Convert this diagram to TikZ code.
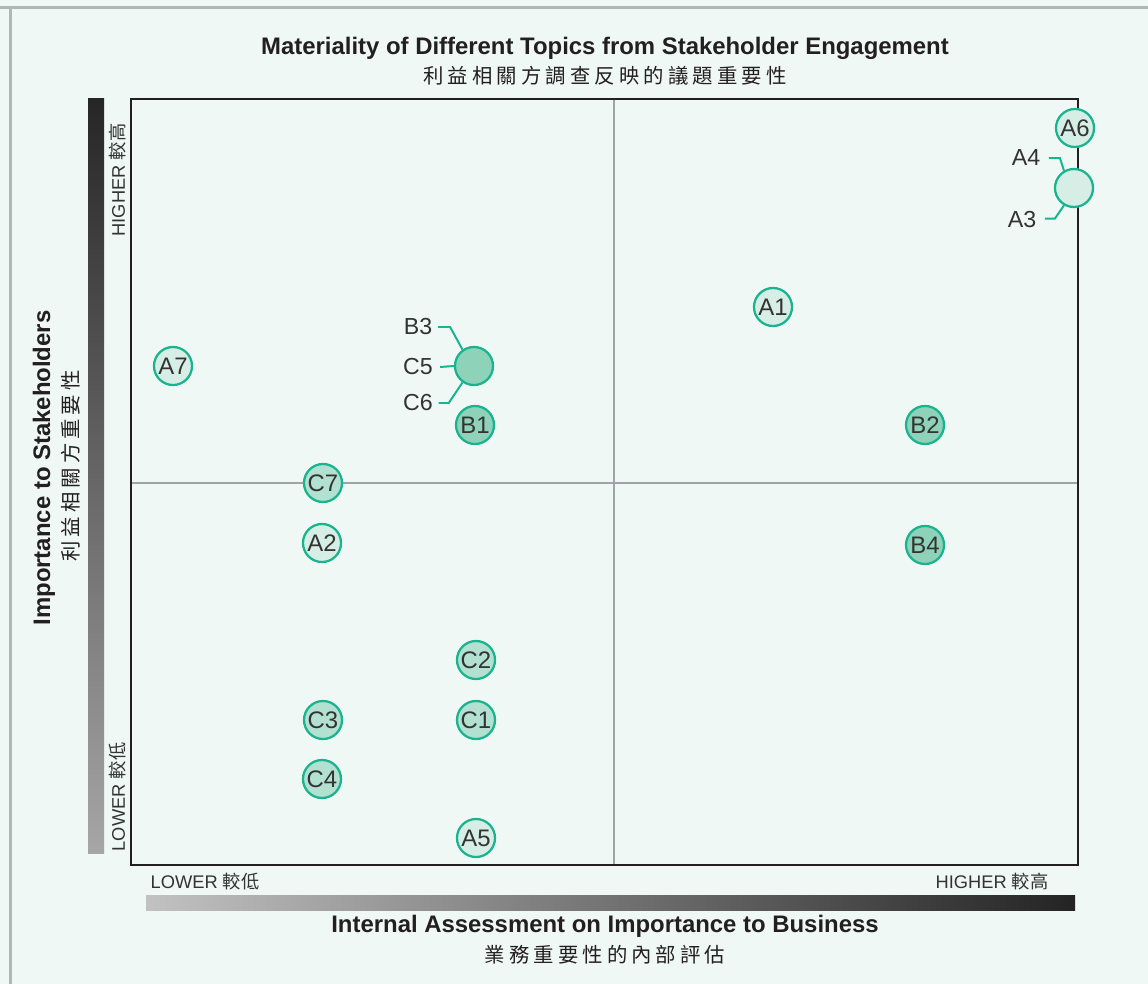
\documentclass[tikz,border=0pt]{standalone}
\usepackage{fontspec}
\setmainfont{Liberation Sans}
\newfontfamily\cjk{Noto Sans CJK TC}
\newfontfamily\cjkwide[LetterSpace=20]{Noto Sans CJK TC}
\usepackage{xcolor}
\usepackage{tikz}
\usetikzlibrary{positioning}

\definecolor{bgmint}{HTML}{EFF8F5}
\definecolor{edgegray}{HTML}{B3B6B7}
\definecolor{topicline}{HTML}{19B38E}
\definecolor{fillA}{HTML}{D6EEE5}
\definecolor{fillB}{HTML}{8ED3B9}
\definecolor{fillC}{HTML}{B2E0D1}
\definecolor{inktext}{HTML}{231F20}
\definecolor{softtext}{HTML}{333333}

\begin{document}
\begin{tikzpicture}[
    x=0.025cm, y=-0.025cm,
    heading/.style={font=\fontsize{17}{18}\bfseries, text=inktext, inner sep=0pt},
    cnheading/.style={font=\fontsize{14.5}{16}\cjkwide, text=inktext, inner sep=0pt},
    scale label/.style={font=\fontsize{13}{14}\selectfont, text=softtext, inner sep=0pt},
    topic/.style={circle, draw=topicline, line width=1.6pt, minimum size=0.95cm, inner sep=0pt, font=\fontsize{17}{17}\selectfont, text=softtext},
    topicA/.style={topic, fill=fillA},
    topicB/.style={topic, fill=fillB},
    topicC/.style={topic, fill=fillC},
    tag/.style={font=\fontsize{16.5}{17}\selectfont, text=softtext, inner sep=0pt},
    link/.style={draw=topicline, line width=1.4pt},
    frame/.style={draw=inktext, line width=2.1pt},
    midline/.style={draw=edgegray!90!black, line width=2pt}
]

% Background and page edge
\fill[bgmint] (0,0) rectangle (1148,984);
\useasboundingbox (0,0) rectangle (1148,984);
\draw[edgegray, line width=2pt] (0,7.5) -- (1148,7.5);
\draw[edgegray, line width=2pt] (10.5,7.5) -- (10.5,984);

% Title
\node[heading] (title) at (605,48) {Materiality of Different Topics from Stakeholder Engagement};
\node[cnheading] (title_cn) at (605,76) {利益相關方調查反映的議題重要性};

% Scale bars
\shade[top color=black!85, middle color=black!52, bottom color=black!35] (88,99) rectangle (104,853);
\shade[left color=black!24, middle color=black!36, right color=black!86] (146,895) rectangle (1075,910);

% Quadrants
\draw[midline] (614,99) -- (614,865);
\draw[midline] (131,483) -- (1078,483);
\draw[frame] (131,99) rectangle (1078,865);

% Axis scale labels
\node[scale label, rotate=90] (y_high) at (118,180) {HIGHER {\cjk 較高}};
\node[scale label, rotate=90] (y_low) at (118,797) {LOWER {\cjk 較低}};
\node[scale label] (x_low) at (205,882) {LOWER {\cjk 較低}};
\node[scale label] (x_high) at (992,882) {HIGHER {\cjk 較高}};

% Axis titles
\node[heading, rotate=90] (y_title) at (44,468) {Importance to Stakeholders};
\node[cnheading, rotate=90] (y_title_cn) at (71,466) {利益相關方重要性};
\node[heading] (x_title) at (605,926) {Internal Assessment on Importance to Business};
\node[cnheading] (x_title_cn) at (605,955) {業務重要性的內部評估};

% Topics
\node[topicA] (a6) at (1075,128) {A6};
\node[topicA] (a34) at (1074,188) {};
\node[topicA] (a1) at (773,307) {A1};
\node[topicA] (a7) at (173,366) {A7};
\node[topicB] (c5) at (474,366) {};
\node[topicB] (b1) at (475,425) {B1};
\node[topicB] (b2) at (925,425) {B2};
\node[topicC] (c7) at (323,483) {C7};
\node[topicA] (a2) at (322,543) {A2};
\node[topicB] (b4) at (925,545) {B4};
\node[topicC] (c2) at (476,660) {C2};
\node[topicC] (c1) at (476,720) {C1};
\node[topicC] (c3) at (323,720) {C3};
\node[topicC] (c4) at (322,779) {C4};
\node[topicA] (a5) at (476,838) {A5};

% Shared circles
\node[tag] (a4_tag) at (1026,158) {A4};
\node[tag] (a3_tag) at (1022,220) {A3};
\draw[link] ([xshift=6pt]a4_tag.east) -- ++(11,0) -- (a34.120);
\draw[link] ([xshift=6pt,yshift=1pt]a3_tag.east) -- ++(10,0) -- (a34.240);

\node[tag] (b3_tag) at (418,327) {B3};
\node[tag] (c5_tag) at (418,367) {C5};
\node[tag] (c6_tag) at (418,403) {C6};
\draw[link] ([xshift=4pt]b3_tag.east) -- ++(12,0) -- (c5.125);
\draw[link] ([xshift=5pt]c5_tag.east) -- (c5.west);
\draw[link] ([xshift=4pt]c6_tag.east) -- ++(10,0) -- (c5.235);

\end{tikzpicture}
\end{document}
